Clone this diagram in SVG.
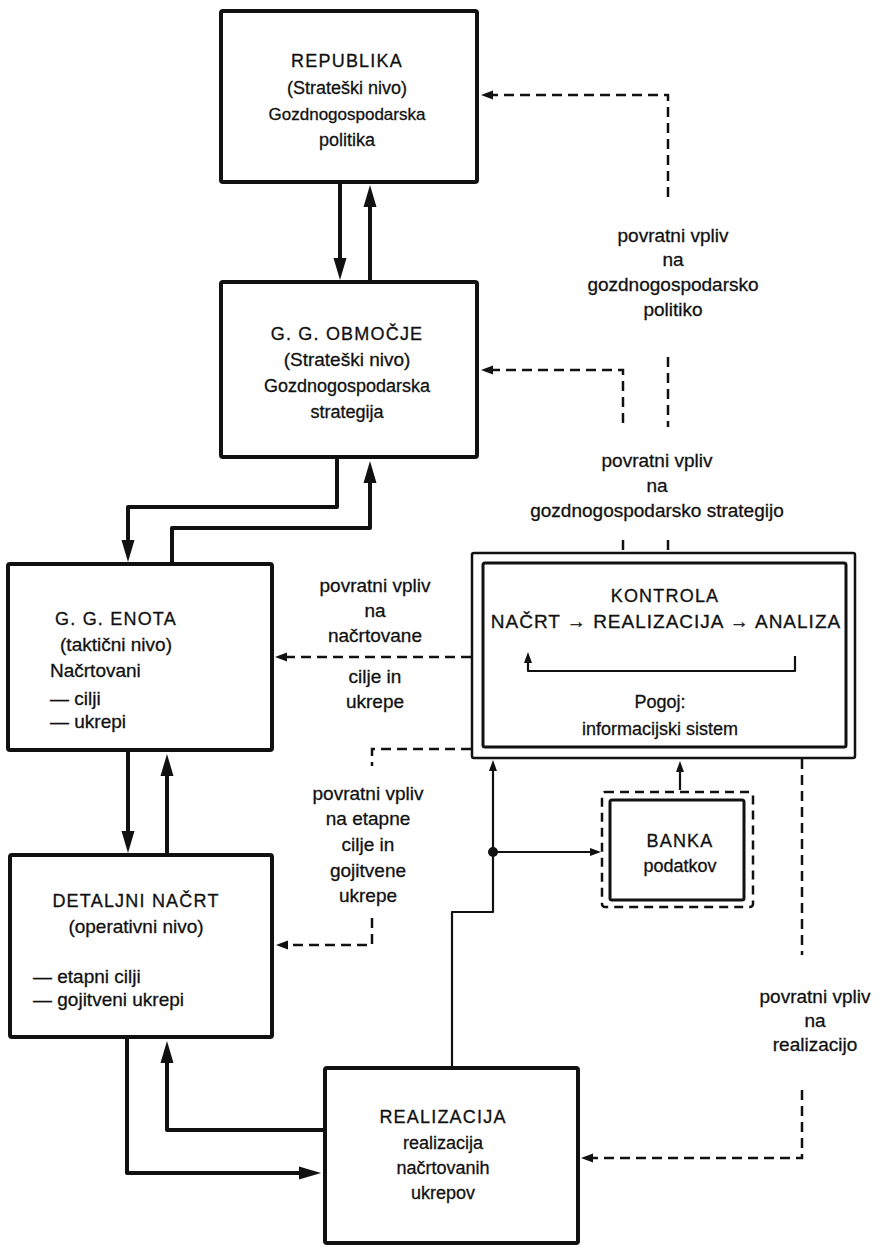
<svg xmlns="http://www.w3.org/2000/svg" width="885" height="1247" viewBox="0 0 885 1247">
<style>
  .bg { fill: #ffffff; }
  .box { fill: #ffffff; stroke: #111; stroke-width: 4; }
  .kout { fill: #ffffff; stroke: #111; stroke-width: 2.5; }
  .kin { fill: none; stroke: #111; stroke-width: 3; }
  .bout { fill: none; stroke: #111; stroke-width: 2.5; stroke-dasharray: 9 6; }
  .thick { fill: none; stroke: #111; stroke-width: 4; stroke-linejoin: round; }
  .thin { fill: none; stroke: #111; stroke-width: 2.2; stroke-linejoin: round; }
  .dash { fill: none; stroke: #111; stroke-width: 2.5; stroke-dasharray: 10 6; }
  text { font-family: "Liberation Sans", Arial, sans-serif; font-size: 18px; fill: #111; stroke: #111; stroke-width: 0.3; }
  .c { text-anchor: middle; }
  .caps { letter-spacing: 1.2px; }
  .lbl { font-size: 19px; }
</style>
<defs>
  <marker id="ah" markerUnits="userSpaceOnUse" markerWidth="24" markerHeight="14" viewBox="0 -7 24 14" refX="2" refY="0" orient="auto" overflow="visible">
    <path d="M0,-6.5 L22,0 L0,6.5 z" fill="#111"/>
  </marker>
  <marker id="ad" markerUnits="userSpaceOnUse" markerWidth="13" markerHeight="10" viewBox="0 -5 13 10" refX="1" refY="0" orient="auto" overflow="visible">
    <path d="M0,-4.5 L12,0 L0,4.5 z" fill="#111"/>
  </marker>
  <marker id="as" markerUnits="userSpaceOnUse" markerWidth="12" markerHeight="10" viewBox="0 -5 12 10" refX="1" refY="0" orient="auto" overflow="visible">
    <path d="M0,-4 L11,0 L0,4 z" fill="#111"/>
  </marker>
</defs>
<rect class="bg" x="0" y="0" width="885" height="1247"/>

<g id="connectors">
  <!-- thick solid flows -->
  <path class="thick" d="M340,184 V260" marker-end="url(#ah)"/>
  <path class="thick" d="M370,280 V205" marker-end="url(#ah)"/>
  <path class="thick" d="M337,459 V507 H128 V542" marker-end="url(#ah)"/>
  <path class="thick" d="M172,562 V528 H370 V481" marker-end="url(#ah)"/>
  <path class="thick" d="M128,752 V833" marker-end="url(#ah)"/>
  <path class="thick" d="M167,853 V774" marker-end="url(#ah)"/>
  <path class="thick" d="M127,1039 V1173 H301" marker-end="url(#ah)"/>
  <path class="thick" d="M323,1130 H167 V1061" marker-end="url(#ah)"/>
  <!-- thin solid -->
  <path class="thin" d="M452,1066 V912 H493 V770" marker-end="url(#as)"/>
  <path class="thin" d="M493,852 H591" marker-end="url(#as)"/>
  <circle cx="493" cy="852" r="5" fill="#111"/>
  <path class="thin" d="M680,790 V771" marker-end="url(#as)"/>
  <!-- dashed feedback -->
  <path class="dash" d="M668,197 V95 H492" marker-end="url(#ad)"/>
  <path class="dash" d="M668,357 V427"/>
  <path class="dash" d="M668,540 V553"/>
  <path class="dash" d="M623,540 V553"/>
  <path class="dash" d="M623,423 V370 H492" marker-end="url(#ad)"/>
  <path class="dash" d="M471,657 H286" marker-end="url(#ad)"/>
  <path class="dash" d="M471,749 H372 V766"/>
  <path class="dash" d="M372,918 V945 H287" marker-end="url(#ad)"/>
  <path class="dash" d="M802,759 V955"/>
  <path class="dash" d="M802,1090 V1158 H592" marker-end="url(#ad)"/>
</g>

<g id="republika">
  <rect class="box" x="221" y="11" width="256" height="171" rx="2"/>
  <text class="c caps" x="347" y="67">REPUBLIKA</text>
  <text class="c" x="347" y="94">(Strateški nivo)</text>
  <text class="c" x="347" y="120" style="font-size:17px">Gozdnogospodarska</text>
  <text class="c" x="347" y="146">politika</text>
</g>

<g id="obmocje">
  <rect class="box" x="221" y="282" width="256" height="175" rx="2"/>
  <text class="c caps" x="347" y="340">G. G. OBMOČJE</text>
  <text class="c" x="347" y="366" style="font-size:19px">(Strateški nivo)</text>
  <text class="c" x="347" y="392">Gozdnogospodarska</text>
  <text class="c" x="347" y="418">strategija</text>
</g>

<g id="enota">
  <rect class="box" x="8" y="564" width="264" height="186" rx="2"/>
  <text class="c caps" x="116" y="625">G. G. ENOTA</text>
  <text class="c" x="116" y="651" style="font-size:19px">(taktični nivo)</text>
  <text x="50" y="677" style="font-size:19px">Načrtovani</text>
  <text x="50" y="705" style="font-size:19px">— cilji</text>
  <text x="50" y="728" style="font-size:19px">— ukrepi</text>
</g>

<g id="detaljni">
  <rect class="box" x="10" y="855" width="262" height="182" rx="2"/>
  <text class="c caps" x="136" y="907">DETALJNI NAČRT</text>
  <text class="c" x="136" y="933" style="font-size:19px">(operativni nivo)</text>
  <text x="33" y="983" style="font-size:19px">— etapni cilji</text>
  <text x="33" y="1006" style="font-size:19px">— gojitveni ukrepi</text>
</g>

<g id="realizacija">
  <rect class="box" x="325" y="1068" width="253" height="175" rx="2"/>
  <text class="c caps" x="443" y="1123">REALIZACIJA</text>
  <text class="c" x="443" y="1149">realizacija</text>
  <text class="c" x="443" y="1174">načrtovanih</text>
  <text class="c" x="443" y="1199">ukrepov</text>
</g>

<g id="kontrola">
  <rect class="kout" x="472" y="553" width="383" height="205" rx="2"/>
  <rect class="kin" x="483" y="563" width="363" height="184" rx="2"/>
  <text class="c caps" x="665" y="602">KONTROLA</text>
  <text class="c" x="666" y="628" style="font-size:19px" letter-spacing="1">NAČRT → REALIZACIJA → ANALIZA</text>
  <path class="thin" d="M795,656 V671 H528 V662" marker-end="url(#as)"/>
  <text class="c" x="660" y="708">Pogoj:</text>
  <text class="c" x="660" y="735">informacijski sistem</text>
</g>

<g id="banka">
  <rect class="bout" x="602" y="792" width="151" height="115" rx="3"/>
  <rect class="kin" x="610" y="800" width="134" height="100" rx="2"/>
  <text class="c caps" x="680" y="847">BANKA</text>
  <text class="c" x="680" y="872">podatkov</text>
</g>

<g id="label-politiko">
  <text class="c lbl" x="673" y="242">povratni vpliv</text>
  <text class="c lbl" x="673" y="266">na</text>
  <text class="c lbl" x="673" y="291">gozdnogospodarsko</text>
  <text class="c lbl" x="673" y="316">politiko</text>
</g>

<g id="label-strategijo">
  <text class="c lbl" x="657" y="467">povratni vpliv</text>
  <text class="c lbl" x="657" y="492">na</text>
  <text class="c lbl" x="657" y="517">gozdnogospodarsko strategijo</text>
</g>

<g id="label-nacrtovane">
  <text class="c lbl" x="375" y="592">povratni vpliv</text>
  <text class="c lbl" x="375" y="617">na</text>
  <text class="c lbl" x="375" y="642">načrtovane</text>
  <text class="c lbl" x="375" y="683">cilje in</text>
  <text class="c lbl" x="375" y="708">ukrepe</text>
</g>

<g id="label-etapne">
  <text class="c lbl" x="368" y="800">povratni vpliv</text>
  <text class="c lbl" x="368" y="825">na etapne</text>
  <text class="c lbl" x="368" y="851">cilje in</text>
  <text class="c lbl" x="368" y="877">gojitvene</text>
  <text class="c lbl" x="368" y="902">ukrepe</text>
</g>

<g id="label-realizacijo">
  <text class="c lbl" x="815" y="1003">povratni vpliv</text>
  <text class="c lbl" x="815" y="1027">na</text>
  <text class="c lbl" x="815" y="1051">realizacijo</text>
</g>
</svg>
